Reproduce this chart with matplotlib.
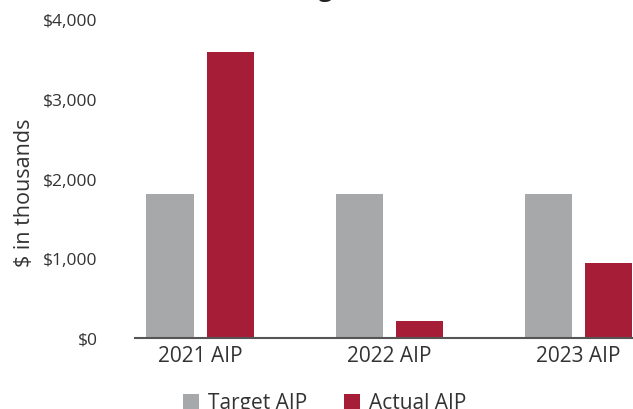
import matplotlib.pyplot as plt
import numpy as np

plt.rcParams['font.family'] = ['Open Sans', 'DejaVu Sans']

c_target = "#A7A8AA"
c_actual = "#A51D36"
c_text = "#333333"

categories = ["2021 AIP", "2022 AIP", "2023 AIP"]
target_aip = [1800, 1800, 1800]
actual_aip = [3590, 215, 940]

fig = plt.figure(figsize=(6.33, 4.10), dpi=100)
# axes: left 135px, right 633px, bottom 339px, top 20px (of 410)
ax = fig.add_axes([135/633, (410-339)/410, (633-135)/633, (339-20)/410])

x = np.arange(len(categories))
w = 0.249
off = 0.159
ax.bar(x - off, target_aip, width=w, color=c_target, label="Target AIP")
ax.bar(x + off, actual_aip, width=w, color=c_actual, label="Actual AIP")

ax.set_xlim(-0.344, 2.288)
ax.set_ylim(0, 4000)
ax.set_yticks([0, 1000, 2000, 3000, 4000])
ax.set_yticklabels(["$0", "$1,000", "$2,000", "$3,000", "$4,000"])
ax.set_xticks(x)
ax.set_xticklabels(categories)
ax.tick_params(axis="y", length=0, labelsize=12.5, colors=c_text, pad=27)
ax.tick_params(axis="x", length=0, labelsize=15, colors=c_text, pad=5)

for s in ["top", "right", "left"]:
    ax.spines[s].set_visible(False)
ax.spines["bottom"].set_color("#555555")
ax.spines["bottom"].set_linewidth(1.5)

ax.set_ylabel("$ in thousands", fontsize=15.5, color=c_text)
ax.yaxis.set_label_coords(-0.2, 0.46)

ax.legend(loc="upper left", bbox_to_anchor=(0.076, -0.138), ncol=2, frameon=False,
          fontsize=15, handlelength=0.75, handleheight=0.75, handletextpad=0.45,
          columnspacing=1.75, labelcolor=c_text, borderpad=0)

# title sits mostly above the canvas, only the descender shows
fig.text(0.567, 1.01, "AIP Target vs. Actual", ha="center", va="baseline",
         fontsize=18, fontweight="bold", color="#222222")

fig.savefig("out.png", dpi=100)
